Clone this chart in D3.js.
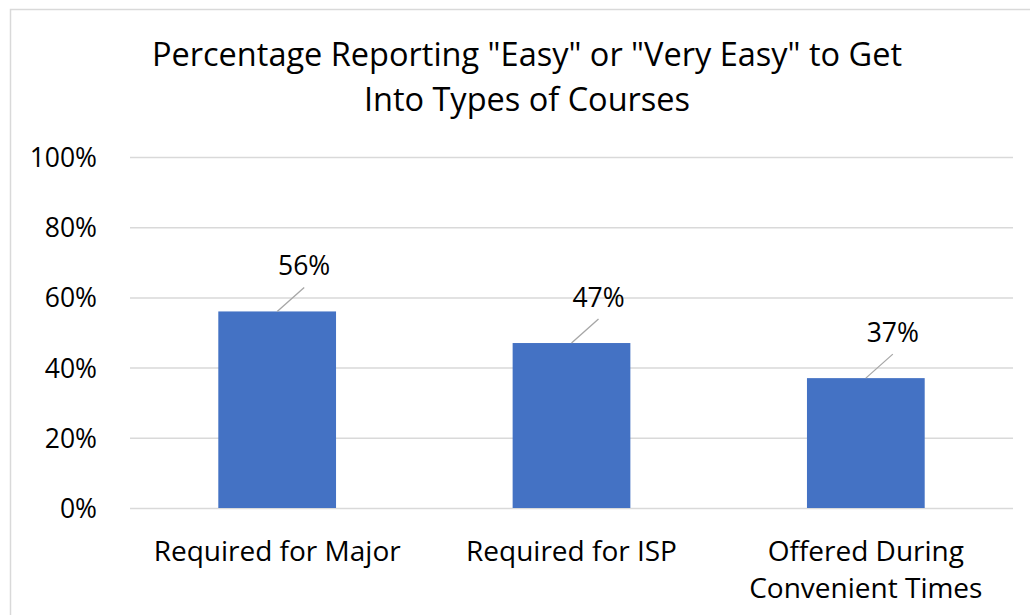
<!DOCTYPE html>
<html><head><meta charset="utf-8">
<script src="https://cdn.jsdelivr.net/npm/d3@7/dist/d3.min.js"></script>
<style>
html,body{margin:0;padding:0;background:#fff;}
svg text{font-family:"Open Sans",Lato,sans-serif;fill:#000;}
</style></head>
<body>
<svg id="chart" width="1030" height="615"></svg>
<script>
const titleLines = ['Percentage Reporting "Easy" or "Very Easy" to Get', 'Into Types of Courses'];
const categories = [["Required for Major"], ["Required for ISP"], ["Offered During", "Convenient Times"]];
const values = [56, 47, 37];
const yTicks = [0, 20, 40, 60, 80, 100];

const svg = d3.select("#chart");
const W = 1030, H = 615;
const plot = {left: 130, right: 1013, top: 157, bottom: 508};

svg.append("rect").attr("x", 10.5).attr("y", 9.5).attr("width", W + 20).attr("height", H + 20)
  .attr("fill", "#fff").attr("stroke", "#d9d9d9").attr("stroke-width", 1.5);

const x = d3.scaleBand().domain(d3.range(categories.length)).range([plot.left, plot.right])
  .paddingInner(0.6).paddingOuter(0.3);
const y = d3.scaleLinear().domain([0, 100]).range([plot.bottom, plot.top]);

// title
const title = svg.append("text").attr("text-anchor", "middle").attr("font-size", 32.5);
titleLines.forEach((t, i) => title.append("tspan").attr("x", 527).attr("y", 66 + i * 45).text(t));

// y axis with gridlines
const yAxis = d3.axisLeft(y).tickValues(yTicks).tickFormat(d => d + "%").tickSize(-(plot.right - plot.left)).tickPadding(33);
const gy = svg.append("g").attr("transform", `translate(${plot.left},0)`).call(yAxis);
gy.select(".domain").remove();
gy.selectAll(".tick line").attr("stroke", "#d9d9d9").attr("stroke-width", 1.5);
gy.selectAll(".tick text").attr("font-size", 26.5).attr("fill", "#000").attr("dy", "0.36em")
  .attr("font-family", "'Open Sans',sans-serif");

// bars
svg.append("g").selectAll("rect").data(values).join("rect")
  .attr("x", (d, i) => x(i)).attr("width", x.bandwidth())
  .attr("y", d => y(d)).attr("height", d => y(0) - y(d))
  .attr("fill", "#4472C4");

// data labels with leader lines
const lab = svg.append("g");
values.forEach((v, i) => {
  const cx = x(i) + x.bandwidth() / 2;
  const lx = cx + 27, base = y(v) - 36;
  lab.append("line").attr("x1", cx).attr("y1", y(v)).attr("x2", lx).attr("y2", base + 12)
    .attr("stroke", "#a6a6a6").attr("stroke-width", 1.3);
  lab.append("text").attr("x", lx).attr("y", base).attr("text-anchor", "middle")
    .attr("font-size", 26.5).text(v + "%");
});

// category labels
const cl = svg.append("g");
categories.forEach((lines, i) => {
  const cx = x(i) + x.bandwidth() / 2;
  const t = cl.append("text").attr("text-anchor", "middle").attr("font-size", 28);
  lines.forEach((s, j) => t.append("tspan").attr("x", cx).attr("y", 561 + j * 37).text(s));
});
</script>
</body></html>
